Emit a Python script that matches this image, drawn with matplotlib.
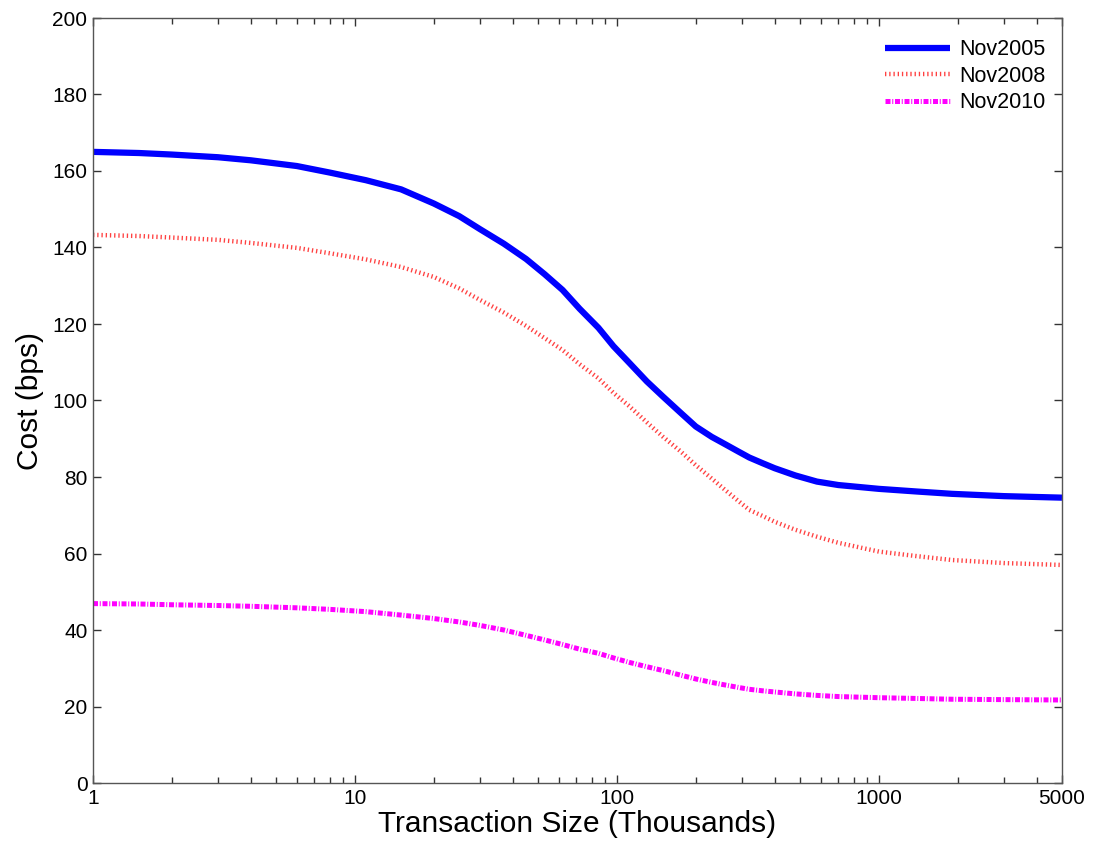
import matplotlib
matplotlib.use("Agg")
import matplotlib.pyplot as plt
from matplotlib.ticker import FixedLocator, LogLocator, NullFormatter, FixedFormatter

plt.rcParams['font.family'] = ['Liberation Sans', 'DejaVu Sans']

size = [1, 1.5, 2, 3, 4, 6, 8, 11, 15, 20, 25, 30, 37, 45, 53, 62, 72, 85, 97, 112,
        130, 150, 175, 200, 230, 260, 290, 320, 360, 400, 480, 580, 700, 1000, 1400,
        1900, 3000, 5000]
nov2005 = [165.0, 164.7, 164.3, 163.6, 162.8, 161.3, 159.6, 157.6, 155.2, 151.5, 148.2,
           144.8, 141.0, 137.0, 133.0, 128.9, 124.0, 119.0, 114.2, 109.7, 105.0, 101.0,
           96.8, 93.2, 90.5, 88.5, 86.7, 85.1, 83.6, 82.3, 80.4, 78.8, 77.9, 76.9, 76.2,
           75.6, 75.0, 74.6]
nov2008 = [143.3, 143.0, 142.6, 142.0, 141.2, 139.9, 138.5, 136.9, 134.9, 132.3, 129.3,
           126.3, 123.0, 119.5, 116.3, 113.2, 109.5, 105.8, 102.0, 98.4, 94.3, 90.5,
           86.7, 83.1, 79.6, 76.5, 73.8, 71.4, 69.8, 68.3, 66.2, 64.4, 62.8, 60.5, 59.3,
           58.3, 57.5, 57.0]
nov2010 = [46.9, 46.8, 46.6, 46.4, 46.2, 45.8, 45.4, 44.8, 43.9, 43.0, 42.1, 41.2, 40.0,
           38.6, 37.4, 36.2, 35.0, 33.9, 32.7, 31.5, 30.4, 29.4, 28.2, 27.2, 26.3, 25.6,
           25.0, 24.5, 24.1, 23.8, 23.3, 22.9, 22.6, 22.3, 22.1, 21.9, 21.8, 21.7]

xticks = [1, 10, 100, 1000, 5000]
xticklabels = ['1', '10', '100', '1000', '5000']
yticks = list(range(0, 201, 20))

fig = plt.figure(figsize=(10.95, 8.55), dpi=100)
ax = fig.add_axes([93/1095, 72/855, 969/1095, 765/855])

ax.plot(size, nov2005, color='#0000ff', lw=4.5, solid_capstyle='butt', label='Nov2005')
ax.plot(size, nov2008, color='#ff2020', lw=3.2, linestyle=(0, (0.3, 0.65)), alpha=0.85, label='Nov2008')
ax.plot(size, nov2010, color='#ff00ff', lw=3.6, linestyle=(0, (1.0, 0.35, 0.2, 0.35)), label='Nov2010')

ax.set_xscale('log')
ax.set_xlim(1, 5000)
ax.set_ylim(0, 200)
ax.xaxis.set_major_locator(FixedLocator(xticks))
ax.xaxis.set_major_formatter(FixedFormatter(xticklabels))
ax.xaxis.set_minor_locator(LogLocator(base=10, subs=range(2, 10)))
ax.xaxis.set_minor_formatter(NullFormatter())
ax.set_yticks(yticks)

ax.tick_params(which='both', direction='in', top=True, right=True, labelsize=15, width=1, color='#333333')
ax.tick_params(which='major', length=6, pad=4)
ax.tick_params(which='minor', length=4)
for s in ax.spines.values():
    s.set_color('#555555')
    s.set_linewidth(1.0)

ax.set_xlabel('Transaction Size (Thousands)', fontsize=21.5, labelpad=2)
ax.set_ylabel('Cost (bps)', fontsize=21.5, labelpad=6)

leg = ax.legend(loc='upper right', bbox_to_anchor=(1 + 3/969, 1 - 2/765), frameon=False,
                fontsize=15.5, handlelength=3.05, labelspacing=0.25, handletextpad=0.42,
                borderaxespad=0.5)

fig.savefig('out.png', dpi=100)
